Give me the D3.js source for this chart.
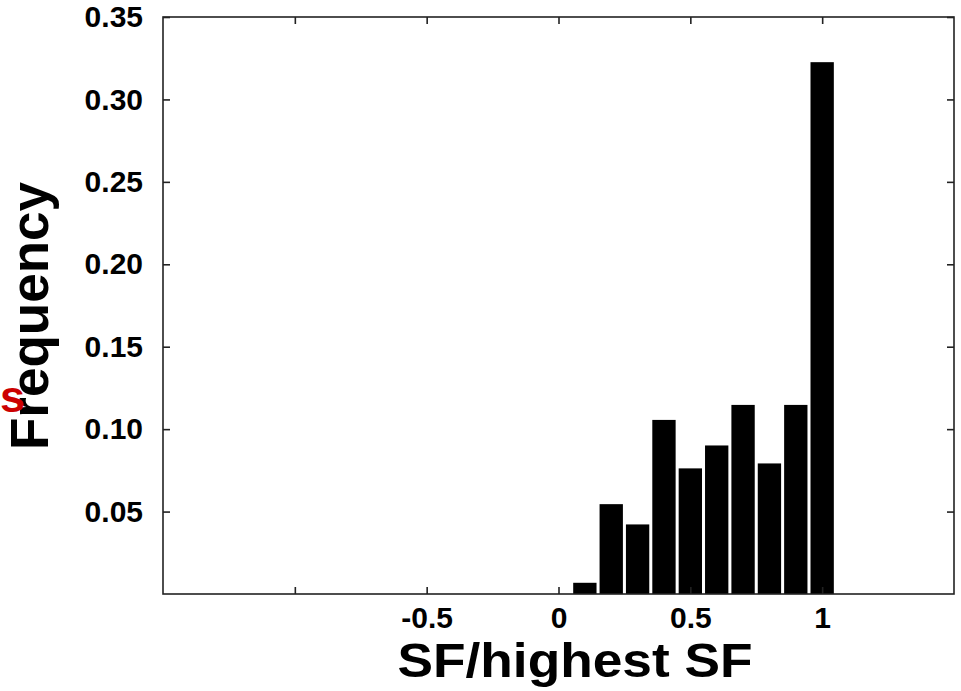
<!DOCTYPE html>
<html>
<head>
<meta charset="utf-8">
<script src="https://cdn.jsdelivr.net/npm/d3@7"></script>
<style>
  html, body { margin: 0; padding: 0; background: #fff; }
  svg { display: block; }
  text { font-family: "Liberation Sans", Arial, sans-serif; font-weight: bold; }
</style>
</head>
<body>
<script>
// ---- data ----
const binCenters = [0.1, 0.2, 0.3, 0.4, 0.5, 0.6, 0.7, 0.8, 0.9, 1.0];
const frequencies = [0.0068, 0.0545, 0.0422, 0.1056, 0.0762, 0.0901, 0.1147, 0.0792, 0.1147, 0.3226];
const xTickValues = [-1, -0.5, 0, 0.5, 1];
const xTickLabels = ["", "-0.5", "0", "0.5", "1"];
const yTickValues = [0.05, 0.10, 0.15, 0.20, 0.25, 0.30, 0.35];
const xTitle = "SF/highest SF";
const yTitle = "Frequency";

// ---- layout ----
const W = 961, H = 691;
const plotLeft = 163, plotRight = 954, plotTop = 17, plotBottom = 594;
const binWidth = 0.1, barFrac = 0.885;

const svg = d3.select("body").append("svg").attr("width", W).attr("height", H);

const x = d3.scaleLinear().domain([-1.5, 1.5]).range([plotLeft, plotRight]);
const y = d3.scaleLinear().domain([0, 0.35]).range([plotBottom, plotTop]);

// bars
svg.append("g").selectAll("rect").data(binCenters).join("rect")
  .attr("x", (d) => x(d - binWidth * barFrac / 2))
  .attr("width", (d) => x(d + binWidth * barFrac / 2) - x(d - binWidth * barFrac / 2))
  .attr("y", (d, i) => y(frequencies[i]))
  .attr("height", (d, i) => y(0) - y(frequencies[i]))
  .attr("fill", "#000");

// frame
svg.append("rect").attr("x", plotLeft).attr("y", plotTop)
  .attr("width", plotRight - plotLeft).attr("height", plotBottom - plotTop)
  .attr("fill", "none").attr("stroke", "#222").attr("stroke-width", 1.6);

const tickLen = 7;
function styleAxis(g) {
  g.select(".domain").remove();
  g.selectAll(".tick line").attr("stroke", "#222").attr("stroke-width", 1.6);
  g.selectAll("text").attr("fill", "#000").style("font-size", "30px")
    .style("font-family", "'Liberation Sans', Arial, sans-serif").style("font-weight", "bold");
}

// bottom axis (ticks inward)
svg.append("g").attr("transform", `translate(0,${plotBottom})`)
  .call(d3.axisBottom(x).tickValues(xTickValues).tickSize(-tickLen).tickPadding(13)
    .tickFormat((d, i) => xTickLabels[i]))
  .call(styleAxis);
// top axis ticks
svg.append("g").attr("transform", `translate(0,${plotTop})`)
  .call(d3.axisTop(x).tickValues(xTickValues).tickSize(-tickLen).tickFormat(""))
  .call(styleAxis);
// left axis
svg.append("g").attr("transform", `translate(${plotLeft},0)`)
  .call(d3.axisLeft(y).tickValues(yTickValues).tickSize(-tickLen).tickPadding(20)
    .tickFormat(d3.format(".2f")))
  .call(styleAxis);
// right axis ticks
svg.append("g").attr("transform", `translate(${plotRight},0)`)
  .call(d3.axisRight(y).tickValues(yTickValues).tickSize(-tickLen).tickFormat(""))
  .call(styleAxis);

// titles
svg.append("text").attr("x", 575).attr("y", 677)
  .attr("text-anchor", "middle").style("font-size", "49px")
  .attr("textLength", 355).attr("lengthAdjust", "spacingAndGlyphs").text(xTitle);

svg.append("text").attr("transform", "translate(48,316) rotate(-90)")
  .attr("text-anchor", "middle").style("font-size", "53px").text(yTitle);

// stray red glyph
svg.append("text").attr("x", 0).attr("y", 412)
  .attr("fill", "#cc0000").style("font-size", "45px").text("s");
</script>
</body>
</html>
